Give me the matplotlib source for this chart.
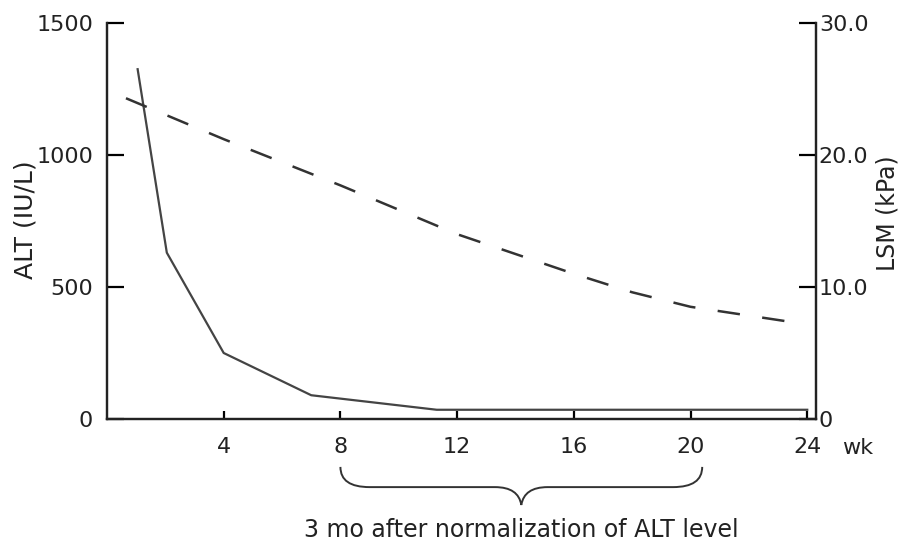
import numpy as np
import matplotlib
matplotlib.use("Agg")
import matplotlib.pyplot as plt
from matplotlib.path import Path
from matplotlib.patches import PathPatch
from matplotlib.transforms import blended_transform_factory

# data
alt_weeks = [1.05, 2.05, 4.0, 7.0, 11.3, 24.0]
alt_values = [1325, 630, 250, 90, 35, 35]

lsm_weeks = [0.65, 4.0, 8.0, 12.0, 16.0, 18.0, 20.0, 23.6]
lsm_values = [24.3, 21.2, 17.7, 14.0, 11.0, 9.6, 8.5, 7.3]

x_ticks = [4, 8, 12, 16, 20, 24]
alt_ticks = [0, 500, 1000, 1500]
lsm_ticks = [0, 10, 20, 30]
lsm_tick_labels = ["0", "10.0", "20.0", "30.0"]

brace_start, brace_end = 8.0, 20.4
brace_text = "3 mo after normalization of ALT level"

plt.rcParams["font.family"] = "DejaVu Sans"
fs = 16
txt = "#222222"

fig = plt.figure(figsize=(9.01, 5.42), dpi=100)
ax = fig.add_axes([107 / 901, 123 / 542, (816 - 107) / 901, 396 / 542])
ax2 = ax.twinx()

ax.plot(alt_weeks, alt_values, color="#444444", lw=1.6, solid_joinstyle="miter")
ax2.plot(lsm_weeks, lsm_values, color="#333333", lw=1.8, dashes=(9, 9))

ax.set_xlim(0, 24.3)
ax.set_ylim(0, 1500)
ax2.set_ylim(0, 30)

for a in (ax, ax2):
    a.spines["top"].set_visible(False)
    for s in ("left", "right", "bottom"):
        a.spines[s].set_linewidth(1.6)
        a.spines[s].set_color("#222222")

ax.set_xticks(x_ticks)
ax.set_yticks(alt_ticks)
ax2.set_yticks(lsm_ticks)
ax2.set_yticklabels(lsm_tick_labels)

ax.tick_params(axis="x", direction="in", length=6, width=1.6, pad=13,
               labelsize=fs, labelcolor=txt)
ax.tick_params(axis="y", direction="in", length=12, width=1.6, pad=10,
               labelsize=fs, labelcolor=txt)
ax2.tick_params(axis="y", direction="in", length=12, width=1.6, pad=2,
                labelsize=fs, labelcolor=txt)

# axis titles, both read bottom to top
fig.text(25 / 901, 1 - 220 / 542, "ALT (IU/L)", fontsize=18, color=txt,
         rotation=90, ha="center", va="center")
fig.text(887 / 901, 1 - 213 / 542, "LSM (kPa)", fontsize=17, color=txt,
         rotation=90, ha="center", va="center")

tr = blended_transform_factory(ax.transData, ax.transAxes)
ax.text(25.2, -0.072, "wk", transform=tr, fontsize=fs, color=txt,
        ha="left", va="center", clip_on=False)

# curly brace under weeks 8-20
mid = (brace_start + brace_end) / 2
y_top, y_mid, y_tip = -0.121, -0.172, -0.217
verts = [
    (brace_start, y_top),
    (brace_start, y_mid), (brace_start + 1.0, y_mid),
    (mid - 0.9, y_mid),
    (mid - 0.1, y_mid), (mid, y_tip),
    (mid + 0.1, y_mid), (mid + 0.9, y_mid),
    (brace_end - 1.0, y_mid),
    (brace_end, y_mid), (brace_end, y_top),
]
codes = [Path.MOVETO, Path.CURVE3, Path.CURVE3, Path.LINETO,
         Path.CURVE3, Path.CURVE3, Path.CURVE3, Path.CURVE3,
         Path.LINETO, Path.CURVE3, Path.CURVE3]
ax.add_patch(PathPatch(Path(verts, codes), transform=tr, fill=False,
                       edgecolor="#333333", lw=1.4, clip_on=False))
ax.text(mid, -0.28, brace_text, transform=tr, fontsize=17, color=txt,
        ha="center", va="center", clip_on=False)

fig.savefig("out.png", dpi=100)
